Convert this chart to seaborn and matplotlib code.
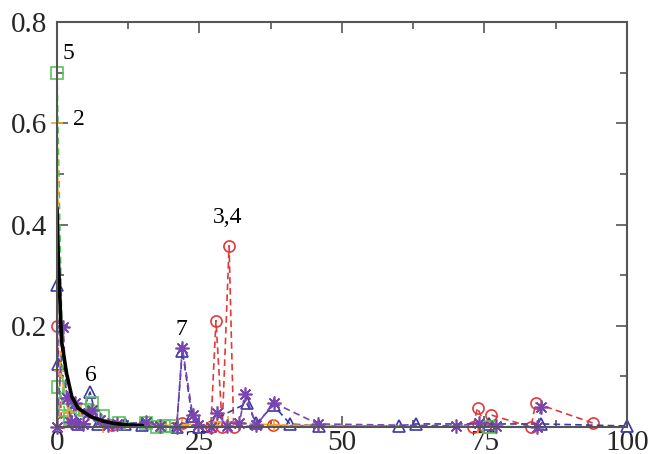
import matplotlib
matplotlib.use("Agg")
import matplotlib.pyplot as plt
import seaborn as sns
import pandas as pd
from matplotlib.ticker import MultipleLocator, FuncFormatter

# ---- data ----
red_x = [0, 0.8, 9.6, 21.9, 27, 27.9, 29, 30.2, 31, 37.9, 73.0, 73.8, 75.2, 76.1, 83.2, 84.0, 94.0]
red_y = [0.20, 0.01, 0.003, 0.008, 0.0, 0.21, 0.0, 0.358, 0.0, 0.003, 0.0, 0.038, 0.0, 0.024, 0.0, 0.047, 0.008]

blue_x = [0, 0.2, 3.7, 5.8, 7.2, 11.9, 15.0, 21.0, 22.0, 23.7, 25.0, 33.3, 35.0, 38.0, 40.9, 46.0, 60.0, 63.0, 75.8, 85.0, 100.0]
blue_y = [0.28, 0.125, 0.005, 0.069, 0.005, 0.006, 0.004, 0.0, 0.151, 0.021, 0.0, 0.047, 0.007, 0.043, 0.006, 0.002, 0.002, 0.006, 0.006, 0.006, 0.002]

purple_x = [0, 1.1, 1.7, 2.5, 3.2, 3.4, 4.5, 5.5, 6.1, 7.5, 9.0, 10.5, 15.7, 18.0, 21.0, 22.0, 23.8, 24.8, 27.0, 28.0, 29.9, 32.0, 33.0, 35.0, 38.0, 45.8, 70.0, 74.0, 77.0, 84.3, 85.0]
purple_y = [0.0, 0.197, 0.057, 0.01, 0.048, 0.008, 0.005, 0.027, 0.033, 0.013, 0.004, 0.005, 0.01, 0.001, 0.0, 0.157, 0.024, 0.004, 0.0, 0.028, 0.001, 0.007, 0.066, 0.003, 0.048, 0.006, 0.002, 0.007, 0.001, 0.0, 0.04]

green_x = [0, 1.1, 0.2, 1.4, 2.3, 4.9, 6.2, 8.1, 10.8, 15.7, 17.5, 18.7, 20.1, 75.8]
green_y = [0.70, 0.046, 0.079, 0.033, 0.015, 0.033, 0.048, 0.021, 0.008, 0.008, 0.0, 0.001, 0.002, 0.0]

orange_x = [0, 0.6, 2.0, 4.3, 8.0, 21.9, 28.0, 30.0, 38.0, 73.8]
orange_y = [0.60, 0.11, 0.03, 0.033, 0.0, 0.004, 0.01, 0.01, 0.004, 0.0]

black_x = [0, 0.23, 0.8, 1.7, 2.6, 3.7, 6.0, 8.0, 10.0, 12.5, 15.0]
black_y = [0.433, 0.335, 0.17, 0.105, 0.06, 0.037, 0.02, 0.012, 0.007, 0.004, 0.003]

labels = ["5", "2", "6", "7", "3,4"]
label_x = [2.0, 3.8, 6.0, 21.8, 29.9]
label_y = [0.727, 0.596, 0.09, 0.182, 0.402]

x_ticks = [0, 25, 50, 75, 100]
y_ticks = [0.2, 0.4, 0.6, 0.8]

sns.set_theme(style="white")
plt.rcParams["font.family"] = ["Liberation Serif", "DejaVu Serif"]

fig = plt.figure(figsize=(6.49, 4.54), dpi=100)
ax = fig.add_axes([0.0878, 0.0595, 0.878, 0.892])

series = [
    (red_x, red_y, "#e03a3a", "o", 1.2, 8, True),
    (blue_x, blue_y, "#3a3aa8", "^", 1.2, 8, True),
    (green_x, green_y, "#5cc45c", "s", 1.2, 8, False),
    (orange_x, orange_y, "#f5a623", "+", 1.2, 9, True),
    (purple_x, purple_y, "#7a45b0", (8, 2, 0), 1.2, 10, True),
]
for xs, ys, c, m, lw, ms, srt in series:
    df = pd.DataFrame({"x": xs, "y": ys})
    sns.lineplot(data=df, x="x", y="y", ax=ax, color=c, linestyle=(0, (4, 2.5)), linewidth=lw,
                 marker=m, markersize=ms, markerfacecolor="none", markeredgecolor=c,
                 markeredgewidth=1.2, clip_on=False, sort=srt, estimator=None)

dfb = pd.DataFrame({"x": black_x, "y": black_y})
sns.lineplot(data=dfb, x="x", y="y", ax=ax, color="black", linewidth=2.6, estimator=None)

for t, lx, ly in zip(labels, label_x, label_y):
    ax.text(lx, ly, t, fontsize=17, ha="center", va="baseline", color="black")

ax.set_xlim(0, 100)
ax.set_ylim(0, 0.8)
ax.set_xticks(x_ticks)
ax.set_yticks([0] + y_ticks)
ax.xaxis.set_minor_locator(MultipleLocator(12.5))
ax.yaxis.set_minor_locator(MultipleLocator(0.1))
ax.yaxis.set_major_formatter(FuncFormatter(lambda v, p: "" if abs(v) < 1e-9 else f"{v:.1f}"))
ax.set_xlabel("")
ax.set_ylabel("")
ax.tick_params(which="both", direction="in", top=True, right=True, bottom=True, left=True,
               color="#555555", labelsize=21)
ax.tick_params(which="major", length=8, width=1.2)
ax.tick_params(which="minor", length=5, width=1.2)
ax.tick_params(axis="x", pad=2)
ax.tick_params(axis="y", pad=7)
for s in ax.spines.values():
    s.set_color("#555555")
    s.set_linewidth(1.5)
ax.set_zorder(1)

fig.savefig("out.png", dpi=100)
